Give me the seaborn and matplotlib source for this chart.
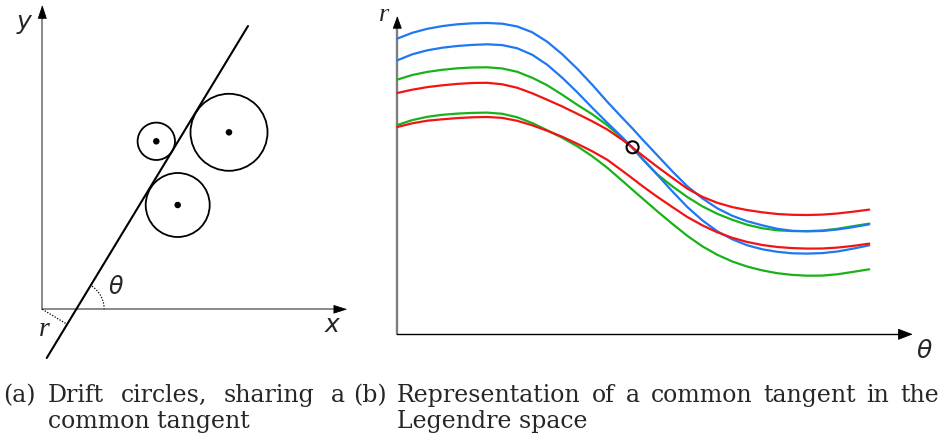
import numpy as np
import pandas as pd
import matplotlib
matplotlib.use("Agg")
import matplotlib.pyplot as plt
import seaborn as sns
from matplotlib.patches import Circle, Arc

sns.set_style("white")
plt.rcParams["font.family"] = ["DejaVu Sans"]

W, H, DPI = 944, 437, 100

# ---------------- panel (b): curves in Legendre space ----------------
THETA = [0, 15, 30, 45, 60, 75, 90, 105, 120, 135, 150, 165, 180, 195, 210, 225, 235,
         245, 260, 275, 290, 305, 320, 335, 350, 365, 380, 395, 410, 425, 440, 455, 472]
BLUE_UPPER = [295.7, 301.5, 305.5, 308.2, 310, 311, 311.3, 310.6, 307.8, 302, 292.5, 280, 265.5,
              249.5, 232.5, 216.5, 206, 195, 179, 163, 148, 136, 126, 118.5, 113, 109, 105.5,
              103.5, 103, 103.3, 104.8, 107, 110]
BLUE_LOWER = [274, 280, 284, 286.6, 288.3, 289.4, 290, 289.2, 286, 279.5, 269.5, 256.5, 242,
              226.5, 211.5, 197, 186.7, 175.5, 159.5, 143, 127.3, 114, 103, 95, 89, 85, 82.5,
              81, 80.7, 81.2, 82.8, 85.5, 89]
GREEN_UPPER = [254.7, 259.3, 262.4, 264.5, 266, 266.8, 267, 265.8, 262.5, 256.5, 249, 239.5, 229.5,
               220, 209, 196, 186.7, 175.5, 160, 148, 137.3, 128, 120.5, 114.5, 109.5, 106, 104,
               103.2, 103.2, 103.8, 105.5, 108, 110.7]
GREEN_LOWER = [209.3, 214.2, 217.5, 219.5, 220.7, 221.4, 221.7, 220.5, 217, 211.2, 204, 196.5, 188,
               178, 166.5, 153.5, 144.7, 136, 123, 110.5, 98.5, 88, 79.5, 72.8, 67.7, 63.9, 61.1,
               59.4, 58.6, 58.7, 60, 62.3, 65]
RED_UPPER = [241.3, 244.6, 247.2, 249, 250.4, 251.3, 251.5, 250, 246.5, 241, 234.5, 227.8, 220.5,
             213, 204.8, 194.5, 187, 179, 167.5, 156.5, 145.7, 137.5, 131.5, 127.2, 124.2, 122,
             120.3, 119.5, 119.3, 119.7, 120.8, 122.5, 124.7]
RED_LOWER = [207.3, 211, 213.6, 215, 216.2, 217, 217.3, 216.4, 213.5, 209, 203.5, 197.5, 190.5,
             183, 174.5, 163.5, 156, 148.3, 137.5, 127.3, 117.3, 109, 102, 96.5, 92.3, 89.3, 87.3,
             86.2, 85.7, 85.8, 86.7, 88.3, 90.7]
COMMON_THETA = [235.3]
COMMON_R = [187.0]

# ---------------- panel (a): drift circles and tangent ----------------
CIRCLE_X = [114.0, 186.7, 135.4]
CIRCLE_Y = [168.0, 177.0, 104.3]
CIRCLE_R = [18.7, 38.5, 32.0]
TANGENT_X = [4.4, 205.7]
TANGENT_Y = [-48.7, 283.3]
TANGENT_ANGLE = 58.8
TANGENT_X0 = 33.9
FOOT_X = [0, 24.8]
FOOT_Y = [0, -15.0]

BLUE, GREEN, RED = "#1f78f2", "#19b319", "#f21414"

fig = plt.figure(figsize=(W / DPI, H / DPI), dpi=DPI)


def make_axes(px0, py0, px1, py1, ox, oy):
    ax = fig.add_axes([px0 / W, 1 - py1 / H, (px1 - px0) / W, (py1 - py0) / H])
    ax.set_xlim(px0 - ox, px1 - ox)
    ax.set_ylim(oy - py1, oy - py0)
    ax.axis("off")
    return ax


def seg(ax, xs, ys, **kw):
    sns.lineplot(x=xs, y=ys, ax=ax, estimator=None, sort=False, errorbar=None, **kw)


def arrow_head(ax, tip, direction, length, halfw, color="black"):
    dx, dy = direction
    base = (tip[0] - dx * length, tip[1] - dy * length)
    ax.annotate("", xy=tip, xytext=base,
                arrowprops=dict(arrowstyle=f"-|>,head_length={length*0.72:.2f},head_width={halfw*0.72:.2f}",
                                mutation_scale=1, lw=0.6, color=color,
                                shrinkA=0, shrinkB=0),
                annotation_clip=False)


# ---------- left panel ----------
axa = make_axes(0, 0, 372, 366, 42.3, 309.3)
axis_gray = "#6a6a6a"
seg(axa, [0, 0], [0, 296], color=axis_gray, lw=1.1)
seg(axa, [0, 296], [0, 0], color=axis_gray, lw=1.1)
arrow_head(axa, (0, 304.3), (0, 1), 12, 4)
arrow_head(axa, (305.0, 0), (1, 0), 12, 3.8)

seg(axa, TANGENT_X, TANGENT_Y, color="black", lw=1.5)
for cx, cy, cr in zip(CIRCLE_X, CIRCLE_Y, CIRCLE_R):
    axa.add_patch(Circle((cx, cy), cr, fill=False, ec="black", lw=1.3))
sns.scatterplot(x=CIRCLE_X, y=CIRCLE_Y, ax=axa, color="black", s=22, edgecolor="none")
axa.add_patch(Arc((TANGENT_X0, 0), 56, 56, theta1=0, theta2=TANGENT_ANGLE,
                  ls=(0, (1, 1.3)), lw=0.9, color="black"))
seg(axa, FOOT_X, FOOT_Y, color="black", lw=0.9, ls=(0, (1, 1.3)))

axa.text(-18.3, 287.3, "y", fontsize=18, style="italic", family="DejaVu Sans", ha="center", va="center")
axa.text(289.4, -15.7, "x", fontsize=18, style="italic", family="DejaVu Sans", ha="center", va="center")
axa.text(73.5, 21.8, "θ", fontsize=17, style="italic", family="DejaVu Sans", ha="center", va="center")
axa.text(1.7, -20.4, "r", fontsize=20, style="italic", family="Liberation Serif", ha="center", va="center")

# ---------- right panel ----------
axb = make_axes(374, 0, 944, 366, 397.3, 334.3)
seg(axb, [0, 0], [0, 310], color="#7f7f7f", lw=1.7)
seg(axb, [0, 505], [0, 0], color="black", lw=1.0)
arrow_head(axb, (0, 318.3), (0, 1), 11, 4)
arrow_head(axb, (515.4, 0), (1, 0), 13, 5)

curves = {
    "green_upper": GREEN_UPPER, "green_lower": GREEN_LOWER,
    "blue_upper": BLUE_UPPER, "blue_lower": BLUE_LOWER,
    "red_upper": RED_UPPER, "red_lower": RED_LOWER,
}
palette = {"green_upper": GREEN, "green_lower": GREEN, "blue_upper": BLUE,
           "blue_lower": BLUE, "red_upper": RED, "red_lower": RED}
df = pd.DataFrame([(t, r, name) for name, vals in curves.items() for t, r in zip(THETA, vals)],
                  columns=["theta", "r", "curve"])
sns.lineplot(data=df, x="theta", y="r", hue="curve", palette=palette, estimator=None,
             sort=False, lw=1.6, legend=False, ax=axb)
sns.scatterplot(x=COMMON_THETA, y=COMMON_R, ax=axb, s=75, facecolor="none",
                edgecolor="black", linewidth=1.5, zorder=10)

axb.text(-13.3, 319, "r", fontsize=19, style="italic", family="Liberation Serif", ha="center", va="center")
axb.text(527.2, -16.7, "θ", fontsize=18, style="italic", family="DejaVu Sans", ha="center", va="center")

# ---------- captions ----------
CAP_FS = 17
cap_kw = dict(fontsize=CAP_FS, family="DejaVu Serif", va="baseline", ha="left")


def ftext(px, py, s):
    return fig.text(px / W, 1 - py / H, s, **cap_kw)


ftext(3, 402, "(a)")
ftext(353, 402, "(b)")
ftext(48, 428, "common tangent")
ftext(397, 428, "Legendre space")

fig.canvas.draw()
renderer = fig.canvas.get_renderer()


def justify(words, x0, x1, py):
    texts = [ftext(0, py, w) for w in words]
    widths = [t.get_window_extent(renderer).width for t in texts]
    gap = (x1 - x0 - sum(widths)) / (len(words) - 1)
    x = x0
    for t, w in zip(texts, widths):
        t.set_x(x / W)
        x += w + gap


justify(["Drift", "circles,", "sharing", "a"], 48, 345, 402)
justify(["Representation", "of", "a", "common", "tangent", "in", "the"], 397, 939, 402)

fig.savefig("out.png", dpi=DPI)
